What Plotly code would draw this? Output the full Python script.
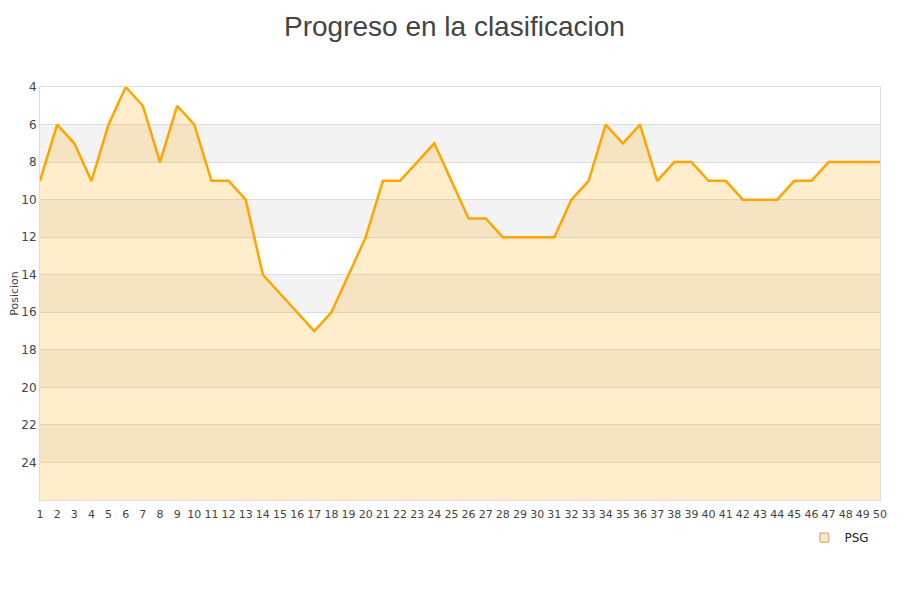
import plotly.graph_objects as go

# jornada (matchday) and league position
jornadas = list(range(1, 51))
posiciones = [9, 6, 7, 9, 6, 4, 5, 8, 5, 6,
              9, 9, 10, 14, 15, 16, 17, 16, 14, 12,
              9, 9, 8, 7, 9, 11, 11, 12, 12, 12,
              12, 10, 9, 6, 7, 6, 9, 8, 8, 9,
              9, 10, 10, 10, 9, 9, 8, 8, 8, 8]
equipo = "PSG"
titulo = "Progreso en la clasificacion"
y_ticks = [4, 6, 8, 10, 12, 14, 16, 18, 20, 22, 24]
y_bottom = 26

line_color = "#ffa500"
fill_color = "rgba(255,165,0,0.2)"

fig = go.Figure()

# invisible baseline at bottom of the axis so the fill goes downward
fig.add_trace(go.Scatter(
    x=jornadas, y=[y_bottom] * len(jornadas), mode="lines",
    line=dict(width=0), hoverinfo="skip", showlegend=False,
))
fig.add_trace(go.Scatter(
    x=jornadas, y=posiciones, mode="lines", name=equipo,
    line=dict(color=line_color, width=2.5),
    fill="tonexty", fillcolor=fill_color, showlegend=False,
))
# legend entry: small square
fig.add_trace(go.Scatter(
    x=[None], y=[None], mode="markers", name=equipo,
    marker=dict(symbol="square", size=9, color="#fde9c6",
                line=dict(color="#c9a060", width=1)),
))

# alternating grey bands
shapes = []
for lo in y_ticks[1::2]:
    shapes.append(dict(type="rect", xref="paper", yref="y", x0=0, x1=1,
                       y0=lo, y1=lo + 2, fillcolor="#f3f3f3",
                       line=dict(width=0), layer="below"))

# page body has an 8px margin, so the plot box is offset to land at 40,87
fig.update_layout(
    width=900, height=600,
    paper_bgcolor="white", plot_bgcolor="white",
    margin=dict(l=32, r=28, t=79, b=108),
    font=dict(family="DejaVu Sans", size=11, color="#444"),
    shapes=shapes,
    annotations=[dict(text=titulo, xref="paper", yref="paper",
                      x=0.4935, y=1.189, xanchor="center", yanchor="top",
                      showarrow=False,
                      font=dict(family="Liberation Sans, Arial", size=28,
                                color="#444"))],
    legend=dict(x=0.91, y=-0.056, xanchor="left", yanchor="top",
                font=dict(family="DejaVu Sans", size=12, color="#222"),
                bgcolor="rgba(0,0,0,0)"),
    showlegend=True,
)
fig.update_xaxes(range=[1, 50], tickvals=jornadas, showgrid=False,
                 zeroline=False, showline=True, linecolor="#ddd", mirror=True,
                 ticks="", tickfont=dict(size=11), automargin=False,
                 ticklabelstandoff=4)
fig.update_yaxes(range=[y_bottom, 4], tickvals=y_ticks, showgrid=True,
                 gridcolor="#dddddd", zeroline=False, showline=True,
                 linecolor="#ddd", mirror=True, ticks="", automargin=False,
                 title=dict(text="Posicion", font=dict(size=11), standoff=2),
                 tickfont=dict(size=12))

fig.write_html("out.html")
